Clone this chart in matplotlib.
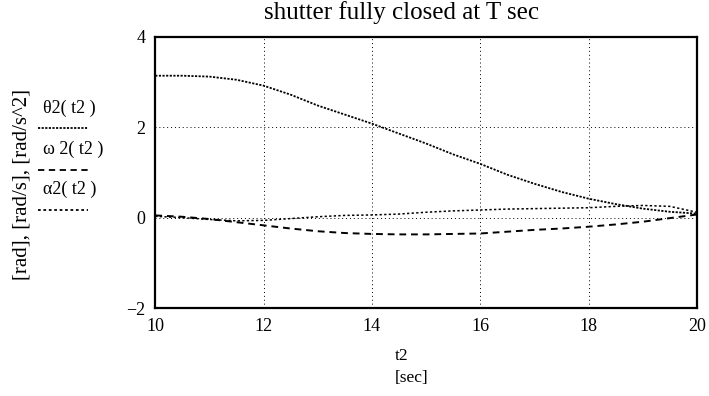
import matplotlib
matplotlib.use("Agg")
import matplotlib.pyplot as plt

plt.rcParams['font.family'] = ['Liberation Serif', 'DejaVu Serif']

t2 = [10, 10.5, 11, 11.5, 12, 12.5, 13, 13.5, 14, 14.5, 15, 15.5, 16, 16.5, 17, 17.5, 18, 18.5, 19, 19.5, 20]
theta2 = [3.14, 3.14, 3.12, 3.05, 2.92, 2.72, 2.48, 2.28, 2.08, 1.86, 1.64, 1.40, 1.19, 0.95, 0.75, 0.57, 0.42, 0.30, 0.20, 0.13, 0.09]
omega2 = [0.05, 0.02, -0.03, -0.10, -0.17, -0.24, -0.30, -0.34, -0.36, -0.37, -0.37, -0.36, -0.35, -0.31, -0.27, -0.24, -0.20, -0.15, -0.09, -0.01, 0.07]
alpha2 = [0.03, 0.00, -0.04, -0.07, -0.06, -0.02, 0.02, 0.05, 0.06, 0.08, 0.12, 0.15, 0.17, 0.19, 0.20, 0.21, 0.22, 0.25, 0.27, 0.25, 0.12]

xticks = [10, 12, 14, 16, 18, 20]
yticks = [-2, 0, 2, 4]

fig = plt.figure(figsize=(7.09, 3.96), dpi=100)
ax = fig.add_axes([0.219, 0.222, 0.764, 0.685])

ax.plot(t2, theta2, color='black', linewidth=1.3, linestyle=(0, (1.2, 0.8)))
ax.plot(t2, omega2, color='black', linewidth=1.4, linestyle=(0, (3.5, 2.5)))
ax.plot(t2, alpha2, color='black', linewidth=1.1, linestyle=(0, (1.5, 1.5)))

ax.set_xlim(10, 20)
ax.set_ylim(-2, 4)
ax.set_xticks(xticks)
ax.set_yticks(yticks)
ax.tick_params(length=0, labelsize=13, pad=7)
for s in ax.spines.values():
    s.set_linewidth(1.6)
    s.set_color('black')

# dotted grid at inner ticks only
for x in xticks[1:-1]:
    ax.axvline(x, color='black', linewidth=0.7, linestyle=(0, (1, 3)))
for y in yticks[1:-1]:
    ax.axhline(y, color='black', linewidth=0.7, linestyle=(0, (1, 3)))

fig.text(402 / 709, 1 - 13 / 396, 'shutter fully closed at T sec', ha='center', va='center', fontsize=18)

fig.text(402 / 709, 1 - 356 / 396, 't2', ha='center', va='center', fontsize=12.5)
fig.text(412 / 709, 1 - 378 / 396, '[sec]', ha='center', va='center', fontsize=12.5)

fig.text(22 / 709, 1 - 185 / 396, '[rad], [rad/s], [rad/s^2]', rotation=90,
         ha='center', va='center', fontsize=15)

# legend on the left side
legend = [('θ2( t2 )', (0, (1.2, 0.8)), 108, 128),
          ('ω 2( t2 )', (0, (3.5, 2.5)), 149, 170),
          ('α2( t2 )', (0, (1.5, 1.5)), 189, 210)]
for label, ls, ty, ly in legend:
    fig.text(43 / 709, 1 - ty / 396, label, ha='left', va='center', fontsize=13)
    fig.add_artist(plt.Line2D([38 / 709, 88 / 709], [1 - ly / 396, 1 - ly / 396],
                              color='black', linewidth=1.3, linestyle=ls))

fig.savefig('out.png', dpi=100)
